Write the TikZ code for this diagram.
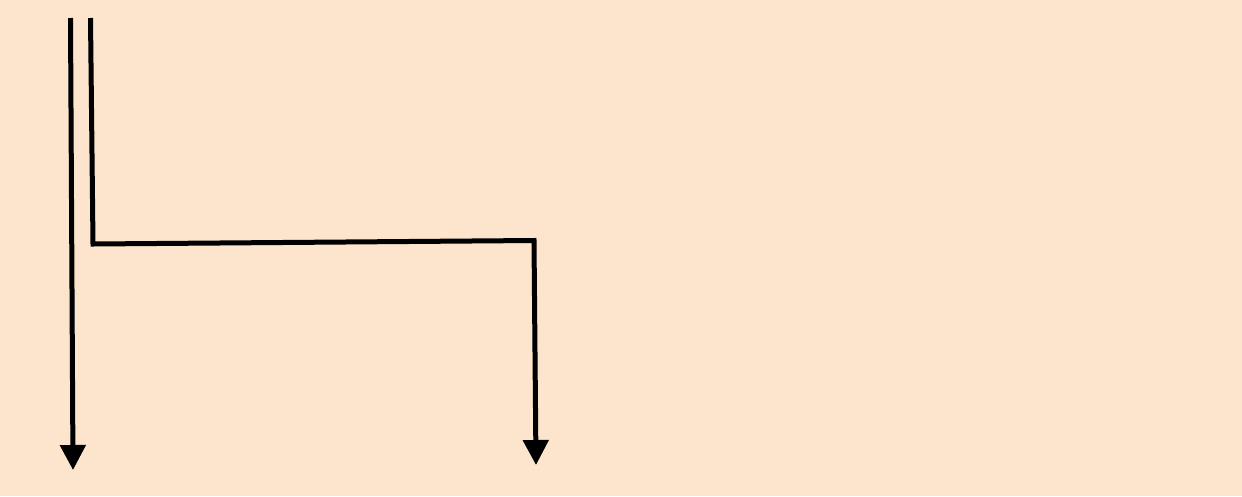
\documentclass[tikz,border=0pt]{standalone}
\usetikzlibrary{arrows.meta}
\definecolor{bgpeach}{RGB}{252,229,204}
\tikzset{
  flow/.style={line width=5pt, draw=black, line join=miter,
    -{Triangle[length=25pt,width=25pt]}}
}
\begin{document}
\begin{tikzpicture}[x=1pt,y=-1pt]
\fill[bgpeach] (0,0) rectangle (1242,496);
\useasboundingbox (0,0) rectangle (1242,496);
\coordinate (a1) at (70.5,18);
\coordinate (b1) at (73,470);
\coordinate (a2) at (90.5,18);
\coordinate (c1) at (93,244);
\coordinate (c2) at (534,240.5);
\coordinate (b2) at (536,465);
\draw[flow] (a1) -- (b1);
\draw[flow] (a2) -- (c1) -- (c2) -- (b2);
\end{tikzpicture}
\end{document}
